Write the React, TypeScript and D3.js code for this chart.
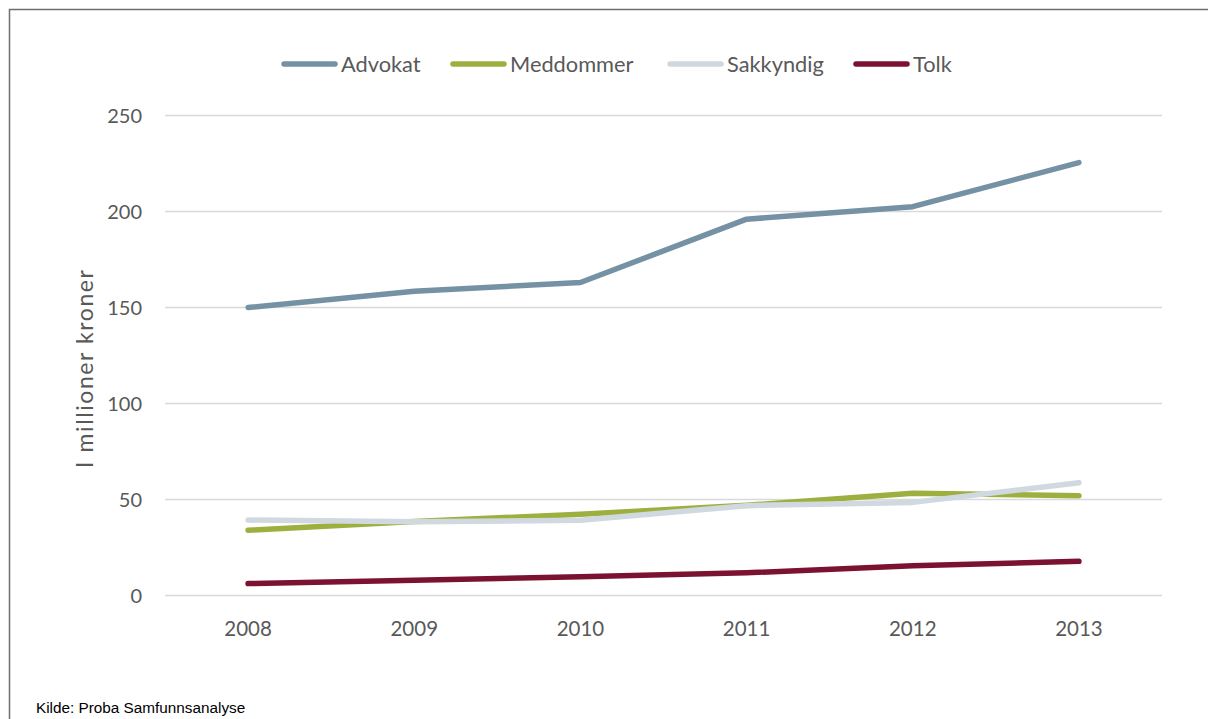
import React from "react";
import * as d3 from "d3";

const years = ["2008", "2009", "2010", "2011", "2012", "2013"];
const advokat = [150, 158.5, 163, 196, 202.5, 225.5];
const meddommer = [34, 38.5, 42.3, 47, 53.3, 52];
const sakkyndig = [39.3, 38.4, 39.2, 46.8, 48.5, 58.7];
const tolk = [6.2, 8, 9.8, 11.8, 15.5, 17.8];
const yTicks = [0, 50, 100, 150, 200, 250];

const seriesNames = ["Advokat", "Meddommer", "Sakkyndig", "Tolk"];
const seriesColors = ["#7591a4", "#9db03f", "#d0d9e0", "#7c1231"];
const seriesData = [advokat, meddommer, sakkyndig, tolk];

const W = 1208;
const H = 719;
const left = 165;
const right = 1162;
const top = 115.5;
const bottom = 595.5;
const FONT = "Lato, 'Open Sans', sans-serif";
const TEXT = "#595959";

export default function App() {
  const x = d3.scaleBand<string>().domain(years).range([left, right]);
  const y = d3.scaleLinear().domain([0, 250]).range([bottom, top]);
  const line = d3
    .line<number>()
    .x((_, i) => (x(years[i]) as number) + x.bandwidth() / 2)
    .y((d) => y(d));

  const legendSwatchX = [282, 451, 668, 854];

  return (
    <svg
      width={W}
      height={H}
      style={{ position: "absolute", left: 0, top: 0, background: "#fff" }}
    >
      <rect x={9.5} y={9.5} width={1300} height={800} fill="#fff" stroke="#6e6e6e" strokeWidth={1.5} />
      {yTicks.map((t) => (
        <g key={t}>
          <line x1={left} x2={right} y1={y(t)} y2={y(t)} stroke="#d9d9d9" strokeWidth={1.5} />
          <text x={142} y={y(t)} dy="0.35em" textAnchor="end" fontFamily={FONT} fontSize={20} fill={TEXT}>
            {t}
          </text>
        </g>
      ))}
      {years.map((yr) => (
        <text
          key={yr}
          x={(x(yr) as number) + x.bandwidth() / 2}
          y={636}
          textAnchor="middle"
          fontFamily={FONT}
          fontSize={20.5}
          fill={TEXT}
        >
          {yr}
        </text>
      ))}
      <text
        transform={`translate(93,369) rotate(-90)`}
        textAnchor="middle"
        fontFamily={FONT}
        fontSize={23}
        textLength={198}
        lengthAdjust="spacing"
        fill={TEXT}
      >
        I millioner kroner
      </text>
      {seriesData.map((d, i) => (
        <path
          key={seriesNames[i]}
          d={line(d) as string}
          fill="none"
          stroke={seriesColors[i]}
          strokeWidth={5.5}
          strokeLinecap="round"
          strokeLinejoin="round"
        />
      ))}
      {seriesNames.map((n, i) => (
        <g key={n}>
          <line
            x1={legendSwatchX[i] + 2}
            x2={legendSwatchX[i] + 53}
            y1={64}
            y2={64}
            stroke={seriesColors[i]}
            strokeWidth={5.5}
            strokeLinecap="round"
          />
          <text x={legendSwatchX[i] + 59} y={64} dy="0.35em" fontFamily={FONT} fontSize={21.8} fill={TEXT}>
            {n}
          </text>
        </g>
      ))}
      <text x={36} y={713} fontFamily="'Liberation Sans', Arial, sans-serif" fontSize={15.3} fill="#000">
        Kilde: Proba Samfunnsanalyse
      </text>
    </svg>
  );
}
